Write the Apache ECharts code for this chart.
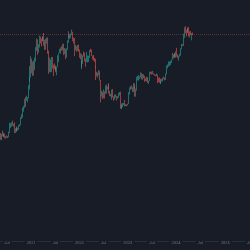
<!DOCTYPE html>
<html>
<head>
<meta charset="utf-8">
<script src="https://cdn.jsdelivr.net/npm/echarts@6/dist/echarts.min.js"></script>
<style>
  html, body { margin: 0; padding: 0; background: #181c27; }
  #chart { width: 250px; height: 250px; }
</style>
</head>
<body>
<div id="chart"></div>
<script>
// weekly candles, first week starts 2020-05-18
var firstWeek = "2020-05-18";
var weekCount = 269; // axis runs on into mid 2025 with no candles
var firstOpen = 9670;
var closes = [
  8720, 9450, 9660, 9380, 9290, 9120, 9070, 9240, 9170, 9930,
  11070, 11680, 11910, 11660, 11690, 10250, 10330, 10760, 10780, 10670,
  11380, 11540, 13030, 13800, 15480, 16060, 18420, 18180, 19160, 19270,
  23480, 26440, 32000, 38150, 35790, 32260, 33100, 38890, 47110, 57500,
  45140, 51200, 59000, 57350, 55840, 58000, 60000, 56200, 49000, 57800,
  58200, 46400, 34700, 35600, 35800, 39100, 35500, 34700, 34000, 34270,
  31780, 34400, 39870, 44600, 47100, 49000, 48800, 51800, 45200, 48300,
  42700, 48200, 54700, 61500, 61300, 61500, 63300, 65500, 59700, 57300,
  49400, 50100, 46700, 50800, 47300, 41860, 43080, 36280, 38480, 42400,
  42200, 38400, 37700, 38400, 38800, 41300, 46800, 46400, 42150, 40400,
  39500, 37700, 34300, 31300, 29450, 29450, 29900, 26600, 20600, 21030,
  19300, 20850, 20800, 22600, 23300, 23200, 24300, 21500, 20000, 19800,
  21800, 19400, 18800, 19300, 19400, 19200, 19600, 20600, 21300, 16300,
  16300, 16450, 17100, 17100, 16800, 16850, 16630, 17100, 20900, 22700,
  23770, 22930, 21800, 24600, 23500, 20500, 22000, 27500, 27900, 27900,
  28300, 30300, 27600, 29200, 28900, 26900, 26850, 28100, 27100, 25850,
  26350, 30500, 30400, 30200, 30250, 29900, 29300, 29050, 29400, 26100,
  26000, 25850, 26200, 26500, 26250, 27970, 27900, 26850, 29900, 34500,
  35000, 37100, 37400, 37450, 39450, 41900, 41300, 42600, 44200, 43900,
  41700, 41600, 42000, 42600, 48300, 52100, 51700, 63100, 68900, 68300,
  67200, 69600, 69400, 65700, 64900, 63100, 63900, 63000
];
var highs = [
  9900, 9700, 10380, 9990, 9590, 9790, 9300, 9470, 9340, 10150,
  12000, 11900, 12100, 12480, 11800, 12090, 10800, 11180, 10990, 10950,
  11500, 11700, 13350, 14100, 15960, 16480, 18800, 19480, 19920, 19400,
  24300, 28400, 34800, 41950, 40100, 37850, 38600, 40950, 49700, 58350,
  57500, 52500, 61800, 60600, 58400, 60200, 61200, 64900, 57000, 58000,
  59500, 59600, 46600, 40800, 39500, 41300, 41300, 35800, 36600, 35100,
  34700, 34500, 42600, 44700, 48100, 49400, 50500, 52900, 52900, 48800,
  48200, 48500, 56500, 62000, 67000, 63700, 64000, 69000, 66300, 59400,
  59000, 51900, 50500, 51900, 52100, 47500, 44400, 43500, 38900, 42600,
  45800, 44700, 40000, 45400, 42500, 42300, 47000, 48200, 47500, 42400,
  42900, 40700, 40000, 34600, 31300, 30700, 32300, 31700, 26800, 21900,
  21500, 22500, 21600, 24200, 24600, 23600, 24900, 25200, 21800, 20600,
  22400, 22600, 19700, 20400, 20500, 19900, 19700, 21000, 21400, 21500,
  17200, 16800, 17400, 17400, 18400, 17000, 16950, 17200, 21300, 23300,
  23900, 24200, 23400, 25250, 25100, 23900, 22800, 28400, 29000, 29400,
  28800, 31000, 30500, 30000, 29800, 29000, 27600, 28400, 28400, 27400,
  26500, 31400, 31300, 31400, 31800, 30400, 29950, 29600, 30250, 29700,
  28000, 28150, 26400, 27450, 27400, 28000, 28600, 28000, 30300, 35200,
  35900, 38000, 37900, 38400, 39500, 44700, 43400, 44300, 44300, 45900,
  49000, 43500, 42200, 43900, 48600, 52800, 52500, 64000, 72000, 73800,
  68800, 71700, 71300, 72700, 66900, 67200, 64700, 65500
];
var lows = [
  8700, 8640, 9270, 9230, 9200, 8960, 8900, 9050, 9000, 9130,
  9900, 10900, 11130, 11380, 11120, 9890, 9880, 10200, 10140, 10390,
  10530, 11220, 11420, 12900, 13200, 14800, 15800, 16200, 18100, 17600,
  19000, 22400, 26100, 28100, 30400, 28900, 29200, 32300, 37900, 46300,
  43000, 44800, 49300, 53200, 50400, 55900, 55500, 51000, 47000, 47500,
  53000, 43800, 30000, 31200, 31000, 31000, 33300, 28800, 32700, 32000,
  31000, 29300, 34300, 37500, 44500, 43900, 46500, 46700, 42800, 43400,
  39600, 40800, 47200, 53900, 59500, 58000, 59000, 62300, 55700, 53300,
  42000, 46800, 45600, 46100, 45700, 40700, 39600, 34000, 32900, 36300,
  41600, 38000, 34300, 37600, 37200, 37600, 40500, 45200, 42100, 39300,
  38600, 37600, 33700, 26700, 28700, 28000, 29300, 26500, 17600, 19600,
  18700, 19000, 18900, 20700, 20700, 22400, 22700, 20800, 19800, 19600,
  18500, 19300, 18100, 18500, 19300, 18200, 18900, 19200, 20000, 15600,
  15800, 15500, 16100, 16700, 16300, 16400, 16350, 16600, 17100, 20400,
  22300, 22600, 21400, 21400, 22800, 19600, 19600, 21900, 26600, 26500,
  27200, 28100, 27100, 26900, 27700, 25800, 26300, 26000, 26600, 25400,
  24800, 26300, 29900, 29700, 29900, 29600, 29100, 28700, 28800, 25200,
  25800, 25400, 24900, 24900, 26100, 26000, 27200, 26600, 26800, 29800,
  33400, 34500, 34800, 35600, 36800, 39400, 40300, 40600, 41500, 40800,
  41500, 40300, 38500, 41600, 42300, 47700, 50600, 50900, 59000, 64500,
  60800, 66700, 64500, 60700, 59600, 62400, 56500, 62300
];

var bg = "#181c27";
var upColor = "#26a69a";
var downColor = "#ef5350";

// week labels
var weeks = [];
var t0 = new Date(firstWeek + "T00:00:00Z").getTime();
for (var i = 0; i < weekCount; i++) {
  var d = new Date(t0 + i * 7 * 86400000);
  weeks.push(d.toISOString().slice(0, 10));
}

// candle rows: [open, close, low, high]
var candles = [];
for (var j = 0; j < closes.length; j++) {
  var o = j === 0 ? firstOpen : closes[j - 1];
  var c = closes[j];
  candles.push([o, c, Math.min(lows[j], o, c), Math.max(highs[j], o, c)]);
}
var lastClose = closes[closes.length - 1];

// first week of Jan / Jul gets a label
function isLabelWeek(index, value) {
  var m = value.slice(5, 7);
  var day = +value.slice(8, 10);
  return (m === "01" || m === "07") && day <= 7;
}

var chart = echarts.init(document.getElementById("chart"));
chart.setOption({
  backgroundColor: bg,
  animation: false,
  grid: { left: 0, right: 0, top: 0, bottom: 9, containLabel: false, outerBoundsMode: "none" },
  xAxis: {
    type: "category",
    data: weeks,
    boundaryGap: true,
    axisTick: { show: false },
    axisLine: { show: true, lineStyle: { color: "#2a2e39", width: 1 } },
    splitLine: { show: false },
    axisLabel: {
      interval: isLabelWeek,
      margin: -1,
      fontSize: 4,
      fontFamily: "Roboto",
      color: "#6c7080",
      backgroundColor: bg,
      padding: [1, 2, 0, 2],
      formatter: function (value) {
        return value.slice(5, 7) === "01" ? value.slice(0, 4) : "Jul";
      }
    }
  },
  yAxis: {
    type: "log",
    min: 1300,
    max: 120500,
    show: false,
    splitLine: { show: false }
  },
  series: [
    {
      type: "candlestick",
      data: candles,
      barWidth: "70%",
      itemStyle: {
        color: upColor,
        color0: downColor,
        borderColor: upColor,
        borderColor0: downColor,
        borderWidth: 0.6
      },
      markLine: {
        silent: true,
        symbol: "none",
        label: { show: false },
        lineStyle: { color: "rgba(239,83,80,0.32)", type: "dotted", width: 1 },
        data: [{ yAxis: lastClose }]
      }
    }
  ]
});
</script>
</body>
</html>
